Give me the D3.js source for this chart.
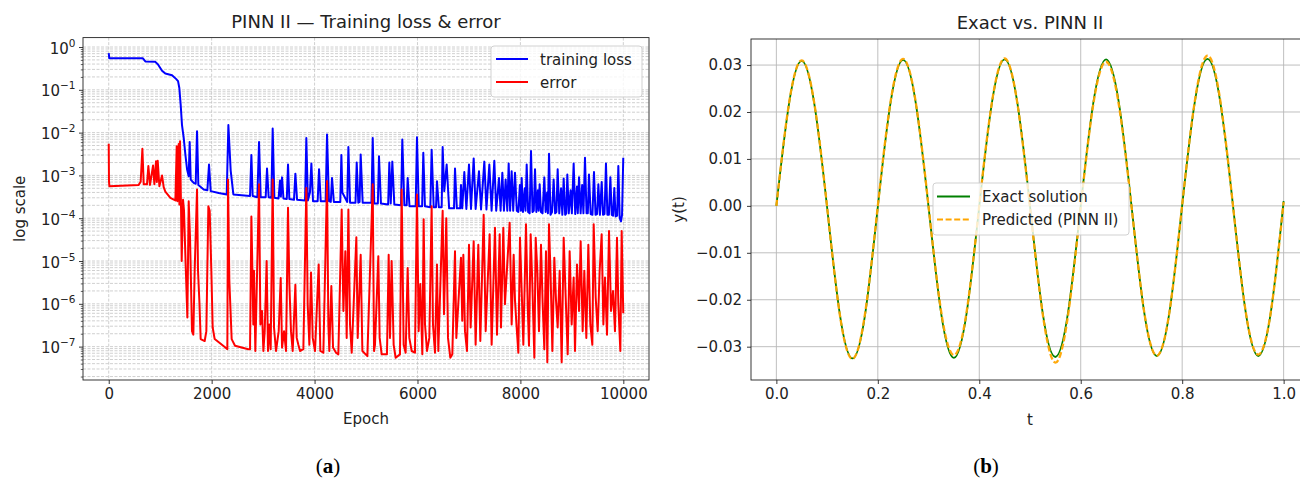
<!DOCTYPE html>
<html>
<head>
<meta charset="utf-8">
<script src="https://cdn.jsdelivr.net/npm/d3@7"></script>
<style>
  body { margin: 0; background: #fff; }
  svg { display: block; }
  text { font-family: "DejaVu Sans", sans-serif; fill: #222; }
</style>
</head>
<body>
<div id="chart-container"></div>
<script>
// ---------- data ----------
// left panel: [epoch, value]
const trainingLoss = [
  [0,0.72],[10,0.55],[660,0.55],[712,0.46],[906,0.45],[958,0.39],[1036,0.28],[1100,0.24],[1230,0.22],
  [1308,0.18],[1347,0.16],[1372,0.11],[1398,0.045],[1424,0.015],[1457,7.5e-3],[1489,3.1e-3],[1522,1.4e-3],
  [1554,9.6e-4],[1573,6e-3],[1593,8e-4],[1651,6.7e-4],[1690,6.4e-4],[1716,1.07e-2],[1742,6e-4],[1846,4.7e-4],
  [1917,4.5e-4],[1949,1.8e-3],[1982,4.3e-4],[2137,3.9e-4],[2293,3.6e-4],[2325,1.5e-2],[2370,1.3e-3],[2422,3.6e-4],
  [2746,3.3e-4],[2772,3e-3],[2797,3.3e-4],[2888,3.1e-4],[2921,6e-3],[2953,3.1e-4],[3050,3.1e-4],[3076,1.45e-3],
  [3108,3.1e-4],[3160,3e-4],[3186,1.24e-2],[3219,3e-4],[3300,2.9e-4],[3329,7.6e-4],[3345,3.2e-4],[3368,9e-4],
  [3395,2.9e-4],[3460,2.8e-4],[3484,1.8e-3],[3510,2.8e-4],[3600,2.7e-4],[3627,1.1e-3],[3660,2.7e-4],[3815,2.6e-4],
  [3840,7.5e-3],[3870,2.6e-4],[3910,4e-4],[3938,1.9e-3],[3970,2.5e-4],[4060,2.5e-4],[4087,1.4e-3],[4120,2.5e-4],
  [4215,2.5e-4],[4242,9e-3],[4280,2.5e-4],[4315,2.4e-4],[4339,8.7e-4],[4375,2.4e-4],[4500,2.4e-4],[4521,3e-3],
  [4540,4e-4],[4635,2.4e-4],[4657,4.6e-3],[4690,2.3e-4],[4795,2.3e-4],[4819,2e-3],[4850,2.3e-4],[4875,2.4e-4],
  [4896,3.1e-3],[4935,2.3e-4],[5105,2.3e-4],[5130,7.5e-3],[5160,2.2e-4],[5230,2.2e-4],[5252,2.8e-3],[5290,2.2e-4],
  [5430,2.1e-4],[5453,2e-3],[5480,2.2e-4],[5511,2.1e-3],[5550,2.1e-4],[5680,2e-4],[5705,6.9e-3],[5745,2e-4],
  [5790,2e-4],[5809,8.7e-4],[5845,1.9e-4],[5965,1.9e-4],[5990,7.8e-3],[6025,1.9e-4],[6090,1.9e-4],[6113,3.4e-3],
  [6145,1.9e-4],[6250,1.8e-4],[6275,4e-3],[6315,1.8e-4],[6360,1.8e-4],[6379,7.3e-4],[6415,1.8e-4],[6470,1.8e-4],
  [6489,4.6e-3],[6520,4.3e-4],[6567,1.8e-3],[6615,1.7e-4],[6710,1.7e-4],[6729,1.45e-3],[6765,1.7e-4],[6830,1.7e-4],
  [6845,6e-4],[6870,1.7e-4],[6910,1.2e-3],[6950,1.65e-4],[7001,1.8e-3],[7040,1.65e-4],[7092,2.5e-3],[7130,1.65e-4],
  [7195,1.25e-3],[7235,1.6e-4],[7299,2.1e-3],[7340,1.6e-4],[7396,1.8e-3],[7440,1.5e-4],[7493,2.2e-3],[7530,1.5e-4],
  [7584,8.7e-4],[7615,1.5e-4],[7649,1.15e-3],[7680,1.5e-4],[7713,8e-4],[7745,1.5e-4],[7772,1.9e-3],[7800,1.5e-4],
  [7830,1.25e-3],[7860,1.5e-4],[7895,1.15e-3],[7930,1.5e-4],[7960,1.4e-4],[7990,6e-4],[8010,1.5e-4],[8025,8.7e-4],
  [8050,1.4e-4],[8085,5e-4],[8100,1.5e-4],[8122,1.8e-3],[8150,1.4e-4],[8180,1.3e-4],[8206,3.7e-3],[8235,1.4e-4],
  [8260,1.5e-4],[8284,1.4e-3],[8310,1.4e-4],[8340,4.5e-4],[8355,1.5e-4],[8374,6.2e-4],[8400,1.4e-4],[8430,1.3e-4],
  [8465,9e-4],[8490,1.4e-4],[8520,4e-4],[8535,1.3e-4],[8556,3.2e-3],[8585,1.2e-4],[8615,1.4e-4],[8646,8e-4],
  [8675,1.3e-4],[8700,1.4e-4],[8724,1.4e-3],[8755,1.3e-4],[8790,5e-4],[8815,1.2e-4],[8841,8.5e-4],[8870,1.2e-4],
  [8890,1.3e-4],[8912,1.05e-3],[8940,1.3e-4],[8975,4.5e-4],[9000,1.3e-4],[9035,1.9e-3],[9065,1.25e-4],[9100,5.5e-4],
  [9115,1.3e-4],[9139,9e-4],[9170,1.3e-4],[9200,6e-4],[9225,1.3e-4],[9255,2.6e-3],[9285,1.3e-4],[9310,1.3e-4],
  [9333,1.05e-3],[9365,1.25e-4],[9400,1.2e-4],[9430,1.2e-3],[9460,1.2e-4],[9490,1.25e-4],[9515,6.2e-4],[9545,1.2e-4],
  [9580,7e-4],[9605,1.2e-4],[9635,1.25e-4],[9663,1.9e-3],[9690,1.2e-4],[9720,1.2e-4],[9748,9e-4],[9775,1.2e-4],
  [9800,1.15e-4],[9825,5.1e-4],[9850,1.1e-4],[9880,1.15e-4],[9903,1.65e-3],[9930,1e-4],[9955,8.5e-5],[9975,1.2e-4],
  [9999,2.6e-3]
];

const errorCurve = [
  [0,5.5e-3],[5,7.4e-4],[12,5.6e-4],[582,6e-4],[621,7.1e-4],[654,4.2e-3],[680,6.2e-4],[744,6.2e-4],[770,1.65e-3],
  [802,6e-4],[861,1.7e-3],[887,6.2e-4],[919,2.15e-3],[935,7e-4],[952,2.2e-3],[984,5.6e-4],[1036,1e-3],[1068,5.3e-4],
  [1100,4.2e-4],[1198,3e-4],[1295,2.6e-4],[1321,4.8e-3],[1334,2.5e-4],[1360,5.4e-3],[1373,2.1e-4],[1386,6.3e-3],
  [1405,1.75e-4],[1418,1e-5],[1444,2.7e-4],[1463,1.5e-4],[1489,1.4e-5],[1528,4.8e-7],[1554,2.5e-4],[1580,3.5e-5],
  [1618,2.3e-7],[1644,1.9e-7],[1670,5.9e-6],[1716,4.7e-4],[1735,5.9e-6],[1761,1.2e-6],[1787,1.5e-7],[1865,1.35e-7],
  [1897,2.3e-7],[1936,1.9e-4],[1962,1.5e-4],[1994,5.9e-6],[2020,2.8e-7],[2059,1.5e-7],[2267,9.5e-8],[2305,8.7e-8],
  [2318,8e-4],[2344,3.4e-6],[2389,1.5e-7],[2454,1.05e-7],[2713,8.7e-8],[2746,8.7e-8],[2772,1.1e-4],[2791,6.9e-6],
  [2810,3.3e-7],[2823,5.9e-6],[2849,7.9e-8],[2921,6.2e-4],[2947,3.3e-7],[2979,6.8e-7],[3005,7.9e-8],[3031,2.3e-7],
  [3069,1e-5],[3095,7.9e-8],[3121,3.3e-7],[3147,8.7e-8],[3186,8e-4],[3212,2.8e-7],[3251,7.9e-8],[3303,2.3e-7],
  [3342,4e-6],[3368,9.5e-8],[3407,2.3e-7],[3445,7.9e-8],[3484,1.75e-4],[3510,2.9e-6],[3542,2.3e-7],[3575,7.9e-8],
  [3627,2.8e-6],[3653,1.6e-7],[3685,1.1e-7],[3717,7.9e-8],[3782,8.7e-8],[3840,5.1e-4],[3866,9.8e-7],[3899,1.1e-7],
  [3931,5.4e-6],[3964,1.6e-7],[4009,7.9e-8],[4080,8.3e-6],[4112,7.9e-8],[4171,7.2e-8],[4242,7.4e-4],[4268,3.3e-7],
  [4287,7.9e-8],[4326,2.6e-6],[4359,9.5e-8],[4417,7.2e-8],[4462,6.6e-8],[4527,1.6e-4],[4560,6.8e-7],[4598,1.7e-5],
  [4624,1.6e-7],[4657,1.6e-4],[4689,3.3e-7],[4722,7.2e-8],[4812,3.6e-5],[4838,1.6e-7],[4896,1.4e-5],[4929,7.9e-8],
  [5026,6e-8],[5130,6.2e-4],[5156,7.9e-8],[5174,1.1e-7],[5239,1.3e-5],[5265,1.6e-7],[5304,6.6e-8],[5407,6.6e-8],
  [5440,1.4e-5],[5466,1.6e-7],[5498,1e-5],[5537,1.1e-7],[5576,5.5e-8],[5660,6.6e-8],[5692,4.7e-4],[5731,1.1e-7],
  [5770,7.2e-8],[5809,6.9e-6],[5841,1.6e-7],[5887,7.9e-8],[5951,7.2e-8],[5990,3.6e-4],[6023,2.3e-7],[6055,2.9e-6],
  [6094,6.6e-8],[6120,9.4e-5],[6146,3.3e-7],[6185,7.9e-8],[6230,1.6e-7],[6275,1.9e-4],[6301,3.3e-7],[6340,7.2e-8],
  [6379,8.3e-6],[6405,7.9e-8],[6489,1.5e-4],[6515,5.7e-7],[6560,1e-4],[6593,1.6e-7],[6638,5.5e-8],[6677,6.6e-8],
  [6729,1.7e-5],[6755,1.6e-7],[6845,1.2e-5],[6870,4e-7],[6891,1.4e-5],[6923,2.3e-7],[6962,7.9e-8],[7001,2.4e-5],
  [7033,2.8e-7],[7092,2.9e-5],[7130,1.1e-7],[7182,2.4e-5],[7221,1.35e-7],[7286,1.2e-4],[7325,2.3e-7],[7402,4.2e-5],
  [7441,1.1e-7],[7506,6e-5],[7545,1.9e-7],[7597,4.2e-5],[7623,2.8e-7],[7668,6e-5],[7700,9.8e-7],[7752,1.2e-5],
  [7791,7.8e-5],[7830,3.3e-7],[7869,1.4e-5],[7895,1.2e-6],[7927,2.8e-7],[7960,7.2e-8],[7992,3.5e-5],[8025,2e-6],
  [8057,1.1e-7],[8109,7.2e-5],[8141,9.8e-7],[8167,1.05e-7],[8199,4.2e-5],[8232,2.9e-6],[8271,5.5e-8],[8297,3.5e-5],
  [8329,5.9e-6],[8361,2.3e-7],[8400,2.4e-5],[8433,9.8e-7],[8465,8.7e-8],[8497,1.7e-5],[8523,4.3e-8],[8556,7.2e-5],
  [8588,4.1e-6],[8621,7.9e-8],[8659,1.2e-5],[8692,1.2e-6],[8724,2.8e-7],[8763,5.9e-6],[8802,4.3e-8],[8841,3.5e-5],
  [8880,1.4e-6],[8919,6.6e-8],[8957,1.7e-5],[8996,3.3e-7],[9035,4.1e-6],[9061,7.9e-8],[9100,8.3e-6],[9139,6.8e-7],
  [9171,2.9e-5],[9210,2.3e-7],[9242,5.9e-6],[9281,1.6e-7],[9320,2.4e-5],[9359,3.3e-7],[9398,1.1e-7],[9424,7.2e-5],
  [9463,1.4e-6],[9502,2.3e-7],[9540,5.9e-6],[9579,4.2e-5],[9612,3.3e-7],[9644,4.1e-6],[9683,1.9e-7],[9722,5e-5],
  [9761,6.8e-7],[9800,2e-6],[9838,2.3e-7],[9877,3.5e-5],[9903,9.8e-7],[9942,7.9e-8],[9968,5e-5],[9999,6e-7]
];

const epochTicks = [0, 2000, 4000, 6000, 8000, 10000];
const decadeExps = [0, -1, -2, -3, -4, -5, -6, -7];

// right panel
const tValues = [0, 0.025, 0.05, 0.075, 0.1, 0.125, 0.15, 0.175, 0.2, 0.225, 0.25, 0.275, 0.3, 0.325, 0.35,
  0.375, 0.4, 0.425, 0.45, 0.475, 0.5, 0.525, 0.55, 0.575, 0.6, 0.625, 0.65, 0.675, 0.7, 0.725, 0.75, 0.775,
  0.8, 0.825, 0.85, 0.875, 0.9, 0.925, 0.95, 0.975, 1.0];
const exactY = [0, 0.0218, 0.0309, 0.0216, -0.0003, -0.0230, -0.0325, -0.0231, -0.0002, 0.0219, 0.0311, 0.0218,
  -0.0002, -0.0230, -0.0324, -0.0229, -0.0001, 0.0220, 0.0312, 0.0220, 0.0000, -0.0228, -0.0322, -0.0227, 0.0000,
  0.0221, 0.0312, 0.0221, 0.0001, -0.0226, -0.0320, -0.0226, 0.0001, 0.0222, 0.0313, 0.0222, 0.0002, -0.0225,
  -0.0320, -0.0225, 0.0010];
const predictedY = [0, 0.0219, 0.0310, 0.0217, -0.0002, -0.0231, -0.0326, -0.0228, 0.0000, 0.0221, 0.0313, 0.0219,
  -0.0001, -0.0226, -0.0318, -0.0226, 0.0001, 0.0221, 0.0314, 0.0219, -0.0003, -0.0230, -0.0334, -0.0233, -0.0002,
  0.0218, 0.0307, 0.0216, 0.0000, -0.0225, -0.0319, -0.0225, 0.0002, 0.0224, 0.0320, 0.0225, 0.0002, -0.0224,
  -0.0317, -0.0224, 0.0008];
const tTicks = [0, 0.2, 0.4, 0.6, 0.8, 1.0];
const yTicksRight = [-0.03, -0.02, -0.01, 0, 0.01, 0.02, 0.03];

// ---------- svg ----------
const width = 1300, height = 479;
const svg = d3.select("#chart-container").append("svg")
  .attr("width", width).attr("height", height);

const tickFont = 15;

// ===================== panel (a) =====================
const A = { left: 83, right: 649, top: 37.6, bottom: 380 };
const xA = d3.scaleLinear().domain([-500, 10499]).range([A.left, A.right]);
const yA = d3.scaleLog().domain([Math.pow(10, -7.78), Math.pow(10, 0.22)]).range([A.bottom, A.top]);

const minorVals = [];
for (let e = -8; e <= 0; e++) {
  for (let k = 2; k <= 9; k++) {
    const v = k * Math.pow(10, e);
    if (v >= yA.domain()[0] && v <= yA.domain()[1]) minorVals.push(v);
  }
}
const majorVals = decadeExps.map(e => Math.pow(10, e));

const gA = svg.append("g");

// grid
const gridA = gA.append("g")
  .attr("stroke", "#c4c4c4").attr("stroke-width", 0.8).attr("stroke-dasharray", "3,1.5");
gridA.selectAll("line.vx").data(epochTicks).enter().append("line")
  .attr("x1", d => xA(d)).attr("x2", d => xA(d)).attr("y1", A.top).attr("y2", A.bottom);
gridA.selectAll("line.hy").data(majorVals.concat(minorVals)).enter().append("line")
  .attr("x1", A.left).attr("x2", A.right).attr("y1", d => yA(d)).attr("y2", d => yA(d));

svg.append("clipPath").attr("id", "clipA").append("rect")
  .attr("x", A.left).attr("y", A.top).attr("width", A.right - A.left).attr("height", A.bottom - A.top);

const lineA = d3.line().x(d => xA(d[0])).y(d => yA(d[1]));
gA.append("path").datum(trainingLoss).attr("clip-path", "url(#clipA)")
  .attr("d", lineA).attr("fill", "none").attr("stroke", "#0000ff")
  .attr("stroke-width", 2).attr("stroke-linejoin", "round");
gA.append("path").datum(errorCurve).attr("clip-path", "url(#clipA)")
  .attr("d", lineA).attr("fill", "none").attr("stroke", "#ff0000")
  .attr("stroke-width", 2).attr("stroke-linejoin", "round");

// axes
const xAxisA = d3.axisBottom(xA).tickValues(epochTicks).tickFormat(d3.format("d"))
  .tickSize(4).tickPadding(4).tickSizeOuter(0);
gA.append("g").attr("transform", "translate(0," + A.bottom + ")").call(xAxisA)
  .call(g => g.select(".domain").remove())
  .call(g => g.selectAll("text").attr("font-size", tickFont).attr("font-family", "DejaVu Sans").attr("fill", "#222"))
  .call(g => g.selectAll("line").attr("stroke", "#222").attr("stroke-width", 0.9));

const yAxisA = d3.axisLeft(yA).tickValues(majorVals).tickFormat("").tickSize(4).tickSizeOuter(0);
gA.append("g").attr("transform", "translate(" + A.left + ",0)").call(yAxisA)
  .call(g => g.select(".domain").remove())
  .call(g => g.selectAll("line").attr("stroke", "#222").attr("stroke-width", 0.9));
const yAxisAminor = d3.axisLeft(yA).tickValues(minorVals).tickFormat("").tickSize(2.2).tickSizeOuter(0);
gA.append("g").attr("transform", "translate(" + A.left + ",0)").call(yAxisAminor)
  .call(g => g.select(".domain").remove())
  .call(g => g.selectAll("line").attr("stroke", "#222").attr("stroke-width", 0.7));

// 10^n labels
const yLab = gA.append("g").selectAll("text").data(decadeExps).enter().append("text")
  .attr("x", A.left - 7.5).attr("y", d => yA(Math.pow(10, d)) + 6.5)
  .attr("text-anchor", "end").attr("font-size", tickFont);
yLab.append("tspan").text("10");
yLab.append("tspan").attr("font-size", 10.5).attr("dy", -7)
  .text(d => d === 0 ? "0" : "\u2212" + Math.abs(d));

gA.append("rect").attr("x", A.left).attr("y", A.top)
  .attr("width", A.right - A.left).attr("height", A.bottom - A.top)
  .attr("fill", "none").attr("stroke", "#222").attr("stroke-width", 0.9);

gA.append("text").attr("x", (A.left + A.right) / 2).attr("y", 28)
  .attr("text-anchor", "middle").attr("font-size", 18).text("PINN II \u2014 Training loss & error");
gA.append("text").attr("x", (A.left + A.right) / 2).attr("y", 424)
  .attr("text-anchor", "middle").attr("font-size", tickFont).text("Epoch");
gA.append("text").attr("transform", "translate(25," + (A.top + A.bottom) / 2 + ") rotate(-90)")
  .attr("text-anchor", "middle").attr("font-size", tickFont).text("log scale");

// legend (a)
const legA = gA.append("g");
legA.append("rect").attr("x", 491).attr("y", 46).attr("width", 151).attr("height", 51).attr("rx", 3)
  .attr("fill", "#fff").attr("fill-opacity", 0.8).attr("stroke", "#cccccc").attr("stroke-width", 0.9);
[["training loss", "#0000ff", 59], ["error", "#ff0000", 82]].forEach(([label, col, y]) => {
  legA.append("line").attr("x1", 496).attr("x2", 528).attr("y1", y).attr("y2", y)
    .attr("stroke", col).attr("stroke-width", 2);
  legA.append("text").attr("x", 540).attr("y", y + 5.5).attr("font-size", tickFont).text(label);
});

// ===================== panel (b) =====================
const B = { left: 751, right: 1309, top: 39, bottom: 380 };
const xB = d3.scaleLinear().domain([-0.05, 1.05]).range([B.left, B.right]);
const yB = d3.scaleLinear().domain([-0.0371, 0.03555]).range([B.bottom, B.top]);

const gB = svg.append("g");
const gridB = gB.append("g").attr("stroke", "#b8b8b8").attr("stroke-width", 0.9);
gridB.selectAll("line.vx").data(tTicks).enter().append("line")
  .attr("x1", d => xB(d)).attr("x2", d => xB(d)).attr("y1", B.top).attr("y2", B.bottom);
gridB.selectAll("line.hy").data(yTicksRight).enter().append("line")
  .attr("x1", B.left).attr("x2", B.right).attr("y1", d => yB(d)).attr("y2", d => yB(d));

svg.append("clipPath").attr("id", "clipB").append("rect")
  .attr("x", B.left).attr("y", B.top).attr("width", B.right - B.left).attr("height", B.bottom - B.top);

const exactData = tValues.map((t, i) => [t, exactY[i]]);
const predData = tValues.map((t, i) => [t, predictedY[i]]);
const lineB = d3.line().x(d => xB(d[0])).y(d => yB(d[1])).curve(d3.curveNatural);

gB.append("path").datum(exactData).attr("clip-path", "url(#clipB)").attr("d", lineB)
  .attr("fill", "none").attr("stroke", "#008000").attr("stroke-width", 1.8);
gB.append("path").datum(predData).attr("clip-path", "url(#clipB)").attr("d", lineB)
  .attr("fill", "none").attr("stroke", "#ffa500").attr("stroke-width", 2.3)
  .attr("stroke-dasharray", "6,2.6").attr("opacity", 0.95);

const xAxisB = d3.axisBottom(xB).tickValues(tTicks).tickFormat(d3.format(".1f"))
  .tickSize(4).tickPadding(4).tickSizeOuter(0);
gB.append("g").attr("transform", "translate(0," + B.bottom + ")").call(xAxisB)
  .call(g => g.select(".domain").remove())
  .call(g => g.selectAll("text").attr("font-size", tickFont).attr("font-family", "DejaVu Sans").attr("fill", "#222"))
  .call(g => g.selectAll("line").attr("stroke", "#222").attr("stroke-width", 0.9));

const yAxisB = d3.axisLeft(yB).tickValues(yTicksRight).tickFormat(d3.format(".2f"))
  .tickSize(4).tickPadding(5).tickSizeOuter(0);
gB.append("g").attr("transform", "translate(" + B.left + ",0)").call(yAxisB)
  .call(g => g.select(".domain").remove())
  .call(g => g.selectAll("text").attr("font-size", tickFont).attr("font-family", "DejaVu Sans").attr("fill", "#222"))
  .call(g => g.selectAll("line").attr("stroke", "#222").attr("stroke-width", 0.9));

gB.append("rect").attr("x", B.left).attr("y", B.top)
  .attr("width", B.right - B.left).attr("height", B.bottom - B.top)
  .attr("fill", "none").attr("stroke", "#222").attr("stroke-width", 0.9);

gB.append("text").attr("x", (B.left + B.right) / 2).attr("y", 29)
  .attr("text-anchor", "middle").attr("font-size", 18).text("Exact vs. PINN II");
gB.append("text").attr("x", (B.left + B.right) / 2).attr("y", 425)
  .attr("text-anchor", "middle").attr("font-size", tickFont).text("t");
gB.append("text").attr("transform", "translate(684," + (B.top + B.bottom) / 2 + ") rotate(-90)")
  .attr("text-anchor", "middle").attr("font-size", tickFont).text("y(t)");

// legend (b)
const legB = gB.append("g");
legB.append("rect").attr("x", 933).attr("y", 183).attr("width", 196).attr("height", 52).attr("rx", 3)
  .attr("fill", "#fff").attr("fill-opacity", 0.8).attr("stroke", "#cccccc").attr("stroke-width", 0.9);
legB.append("line").attr("x1", 937).attr("x2", 970).attr("y1", 196.5).attr("y2", 196.5)
  .attr("stroke", "#008000").attr("stroke-width", 1.8);
legB.append("line").attr("x1", 937).attr("x2", 970).attr("y1", 219.5).attr("y2", 219.5)
  .attr("stroke", "#ffa500").attr("stroke-width", 2.2).attr("stroke-dasharray", "6,2.6");
legB.append("text").attr("x", 982).attr("y", 202).attr("font-size", tickFont).text("Exact solution");
legB.append("text").attr("x", 982).attr("y", 225).attr("font-size", tickFont).text("Predicted (PINN II)");

// ---------- captions ----------
[["a", 328], ["b", 986]].forEach(([letter, cx]) => {
  const t = svg.append("text").attr("x", cx).attr("y", 473).attr("text-anchor", "middle")
    .attr("font-size", 21).style("font-family", "'Liberation Serif', 'DejaVu Serif', serif").style("fill", "#000");
  t.append("tspan").text("(");
  t.append("tspan").attr("font-weight", "bold").text(letter);
  t.append("tspan").text(")");
});
</script>
</body>
</html>
